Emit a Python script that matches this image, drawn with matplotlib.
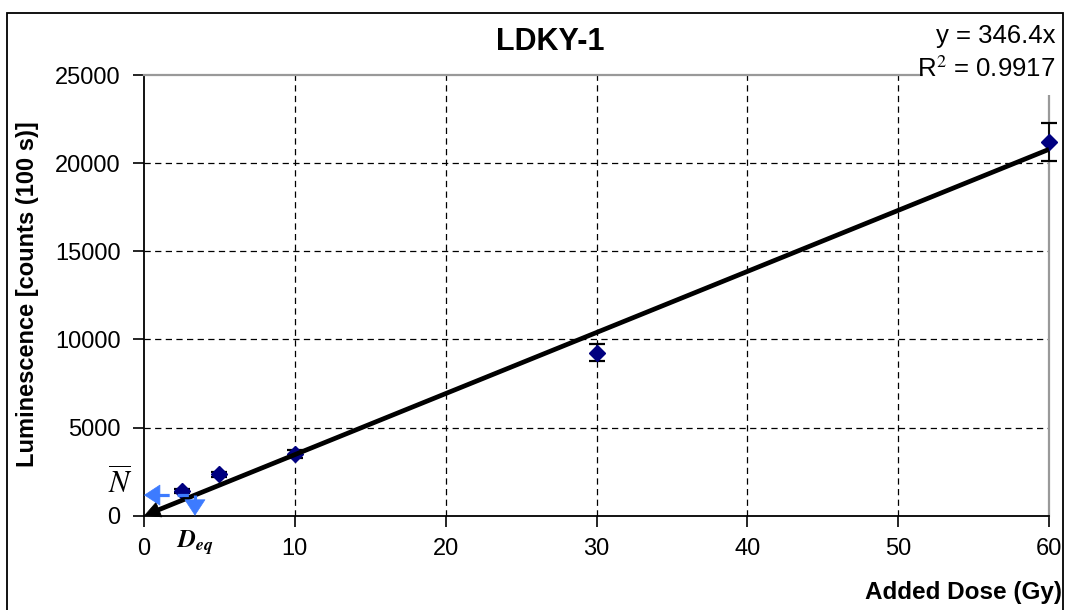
import matplotlib
matplotlib.use("Agg")
import matplotlib.pyplot as plt
from matplotlib.patches import Rectangle

plt.rcParams['font.family'] = ['Liberation Sans', 'DejaVu Sans']
plt.rcParams['mathtext.fontset'] = 'stix'

# measured luminescence vs added dose
dose = [2.5, 5, 10, 30, 60]
lum = [1400, 2350, 3500, 9250, 21200]
lum_err = [100, 150, 200, 470, 1070]

slope = 346.4
r2 = 0.9917
n_bar = 1170
x_ticks = [0, 10, 20, 30, 40, 50, 60]
y_ticks = [0, 5000, 10000, 15000, 20000, 25000]

W, H = 1065, 610
fig = plt.figure(figsize=(W / 100, H / 100), dpi=100)
ax = fig.add_axes([144 / W, 1 - 515.7 / H, (1049 - 144) / W, (515.7 - 75) / H])

ax.set_xlim(0, 60)
ax.set_ylim(0, 25000)
ax.set_xticks(x_ticks)
ax.set_yticks(y_ticks)
ax.tick_params(axis='both', direction='out', length=8, width=1.2, labelsize=17)
ax.tick_params(axis='x', pad=8)
ax.tick_params(axis='y', pad=9)

# dashed grid on interior ticks only
for xv in x_ticks[1:-1]:
    ax.axvline(xv, color='black', lw=0.9, dashes=(5, 3.5), zorder=1)
for yv in y_ticks[1:-1]:
    ax.axhline(yv, color='black', lw=0.9, dashes=(5, 3.5), zorder=1)

for s in ['left', 'bottom']:
    ax.spines[s].set_color('black')
    ax.spines[s].set_linewidth(1.3)
for s in ['top', 'right']:
    ax.spines[s].set_color('#999999')
    ax.spines[s].set_linewidth(1.6)

# error bars and points
ax.errorbar(dose, lum, yerr=lum_err, fmt='none', ecolor='black', elinewidth=1.3,
            capsize=5.5, capthick=1.6, zorder=4, clip_on=False)
ax.plot(dose, lum, linestyle='none', marker='D', markersize=8.5, color='#000080',
        zorder=5, clip_on=False)

# fitted line through the origin, arrow head at zero
ax.plot([0.7, 60], [slope * 0.7, slope * 60], color='black', lw=3.4,
        solid_capstyle='butt', zorder=6)
ax.annotate('', xy=(0, 0), xytext=(1.0, slope * 1.0),
            arrowprops=dict(arrowstyle='-|>,head_length=0.55,head_width=0.28',
                            mutation_scale=20, lw=0.5, color='black',
                            shrinkA=0, shrinkB=0),
            zorder=6, annotation_clip=False)

# equivalent dose construction
d_eq = n_bar / slope
blue = '#3d7bff'
ax.plot([0.9, d_eq], [n_bar, n_bar], color=blue, lw=2.3, dashes=(3.5, 2.5),
        zorder=6, clip_on=False)
ax.plot([d_eq, d_eq], [n_bar, 400], color=blue, lw=2.3, dashes=(3.5, 2.5),
        zorder=6, clip_on=False)
ax.annotate('', xy=(0, n_bar), xytext=(1.0, n_bar),
            arrowprops=dict(arrowstyle='-|>,head_length=0.55,head_width=0.36',
                            mutation_scale=20, lw=0.5, color=blue,
                            shrinkA=0, shrinkB=0),
            zorder=7, annotation_clip=False)
ax.annotate('', xy=(d_eq, 0), xytext=(d_eq, 450),
            arrowprops=dict(arrowstyle='-|>,head_length=0.55,head_width=0.36',
                            mutation_scale=20, lw=0.5, color=blue,
                            shrinkA=0, shrinkB=0),
            zorder=7, annotation_clip=False)

fig.text(120 / W, 1 - 484 / H, r'$\overline{N}$', fontsize=22,
         ha='center', va='center')
fig.text(195 / W, 1 - 543 / H, r'$\mathbfit{D}_{\mathbfit{eq}}$', fontsize=18,
         ha='center', va='center')

# titles and labels
fig.text(550 / W, 1 - 42 / H, 'LDKY-1', fontsize=22, fontweight='bold',
         ha='center', va='center')
fig.text(28 / W, 1 - 294 / H, 'Luminescence [counts (100 s)]', fontsize=17,
         fontweight='bold', rotation=90, ha='center', va='center')
fig.text(1062 / W, 1 - 593 / H, 'Added Dose (Gy)', fontsize=17.5,
         fontweight='bold', ha='right', va='center')

# regression equation box over the top-right corner
fig.add_artist(Rectangle((923 / W, 1 - 95 / H), (1062 - 923) / W, 80 / H,
                         transform=fig.transFigure, facecolor='white',
                         edgecolor='none', zorder=9))
fig.text(1055 / W, 1 - 36 / H, 'y = %.1fx' % slope, fontsize=18.5, ha='right',
         va='center', zorder=10)
fig.text(1055 / W, 1 - 69 / H, r'R$^2$ = %.4f' % r2, fontsize=18.5, ha='right',
         va='center', zorder=10)

# outer chart border
fig.add_artist(Rectangle((7 / W, -0.05), (1063 - 7) / W, 1 - 13 / H + 0.05,
                         transform=fig.transFigure, facecolor='none',
                         edgecolor='black', lw=1.3, zorder=11))

fig.savefig('out.png', dpi=100)
